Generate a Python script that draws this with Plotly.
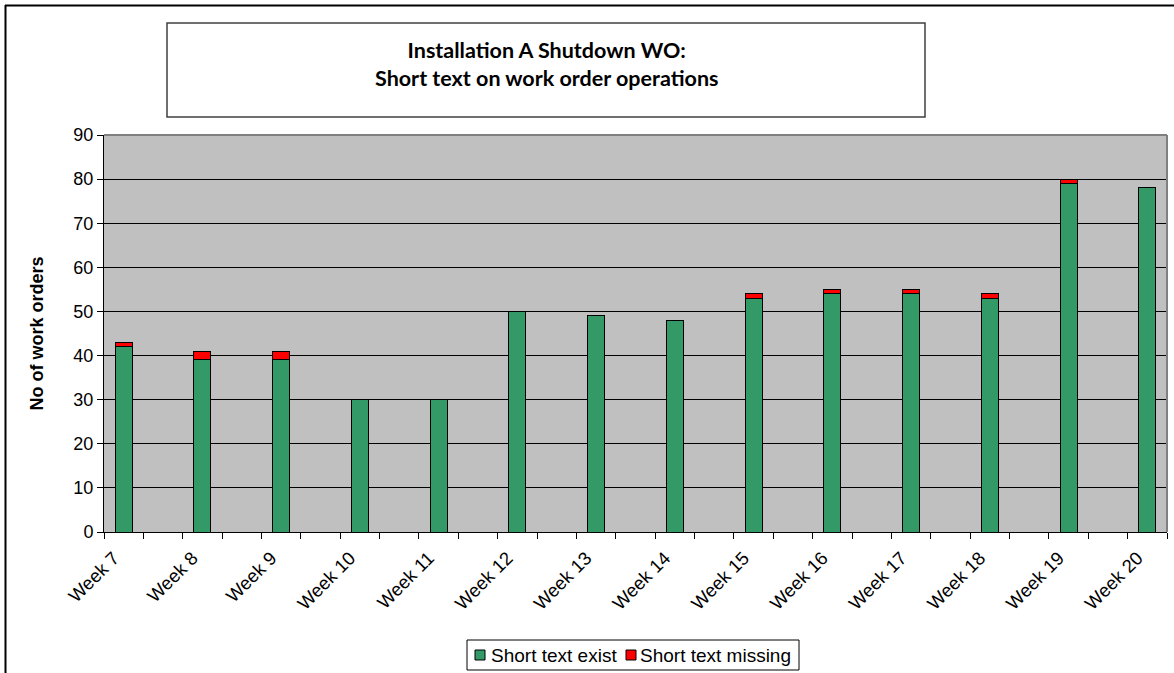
import plotly.graph_objects as go

weeks = ["Week 7", "Week 8", "Week 9", "Week 10", "Week 11", "Week 12", "Week 13",
         "Week 14", "Week 15", "Week 16", "Week 17", "Week 18", "Week 19", "Week 20"]
short_text_exist = [42, 39, 39, 30, 30, 50, 49, 48, 53, 54, 54, 53, 79, 78]
short_text_missing = [1, 2, 2, 0, 0, 0, 0, 0, 1, 1, 1, 1, 1, 0]
series_names = ["Short text exist", "Short text missing"]
series_colors = ["#339966", "#FF0000"]
y_ticks = [0, 10, 20, 30, 40, 50, 60, 70, 80, 90]

# Excel layout: 27 category slots, data in every second slot
n_slots = 2 * len(weeks) - 1
xpos = [2 * i for i in range(len(weeks))]

W, H = 1174, 673
L, R, T, B = 104, 1167, 135, 532


def px(x):
    return (x - L) / (R - L)


def py(y):
    return (B - y) / (B - T)


FONT = "Liberation Sans, Arial, sans-serif"
FS = 18

fig = go.Figure()
for vals, name, col in zip([short_text_exist, short_text_missing], series_names, series_colors):
    fig.add_trace(go.Bar(
        x=xpos, y=vals, name=name, width=0.43,
        marker=dict(color=col, line=dict(color="#000000", width=1)),
    ))
# invisible helper trace so the label axis is drawn
fig.add_trace(go.Scatter(
    x=xpos, y=[0] * len(xpos), xaxis="x2", yaxis="y", mode="markers",
    marker=dict(opacity=0), showlegend=False, hoverinfo="skip",
))

fig.update_layout(
    width=W, height=H,
    barmode="stack",
    paper_bgcolor="white",
    plot_bgcolor="#C0C0C0",
    margin=dict(l=L, r=W - R, t=T, b=H - B, autoexpand=False),
    font=dict(family=FONT, size=FS, color="black"),
    showlegend=False,
    xaxis=dict(
        range=[-0.5, n_slots - 0.5],
        tickmode="array",
        tickvals=[i - 0.5 for i in range(n_slots + 1)],
        ticktext=["" for _ in range(n_slots + 1)],
        ticks="outside", ticklen=6, tickcolor="black", tickwidth=1,
        showline=True, linecolor="black", linewidth=1,
        showgrid=False, zeroline=False,
    ),
    xaxis2=dict(
        overlaying="x", side="bottom",
        range=[-0.5 + 0.25, n_slots - 0.5 + 0.25],
        tickmode="array", tickvals=xpos, ticktext=weeks,
        tickangle=-45, ticks="outside", ticklen=7, tickcolor="rgba(0,0,0,0)",
        showline=False, showgrid=False, zeroline=False,
        tickfont=dict(family=FONT, size=18.5, color="black"),
    ),
    yaxis=dict(
        range=[0, 90], tickmode="array", tickvals=y_ticks,
        ticks="outside", ticklen=6, tickcolor="black",
        showline=True, linecolor="black", linewidth=1,
        showgrid=True, gridcolor="black", gridwidth=1, zeroline=False,
        tickfont=dict(family=FONT, size=FS, color="black"),
        title=dict(text="<b>No of work orders</b>", font=dict(family=FONT, size=FS), standoff=25),
    ),
)

shapes = [
    # plot area gray top/right border
    dict(type="line", xref="paper", yref="paper", x0=0, x1=1, y0=1, y1=1,
         line=dict(color="#808080", width=2)),
    dict(type="line", xref="paper", yref="paper", x0=1, x1=1, y0=0, y1=1,
         line=dict(color="#808080", width=2)),
    # title box
    dict(type="rect", xref="paper", yref="paper", x0=px(167), x1=px(925), y0=py(117), y1=py(23),
         line=dict(color="#404040", width=1.5), fillcolor="white"),
    # outer chart border (top and left)
    dict(type="line", xref="paper", yref="paper", x0=px(5), x1=px(1180), y0=py(5.5), y1=py(5.5),
         line=dict(color="black", width=2)),
    dict(type="line", xref="paper", yref="paper", x0=px(5.5), x1=px(5.5), y0=py(5), y1=py(680),
         line=dict(color="black", width=2)),
    # legend box
    dict(type="rect", xref="paper", yref="paper", x0=px(467), x1=px(799), y0=py(670), y1=py(640),
         line=dict(color="black", width=1), fillcolor="white"),
]
# legend swatches and labels
leg_sw_x = [475, 626]
leg_tx_x = [489, 638]
for sx, tx, name, col in zip(leg_sw_x, leg_tx_x, series_names, series_colors):
    shapes.append(dict(type="rect", xref="paper", yref="paper", x0=px(sx), x1=px(sx + 10),
                       y0=py(660), y1=py(650), line=dict(color="black", width=1), fillcolor=col))
    fig.add_annotation(xref="paper", yref="paper", x=px(tx), y=py(655), xanchor="left",
                       yanchor="middle", text=name, showarrow=False,
                       font=dict(family=FONT, size=19, color="black"))
fig.update_layout(shapes=shapes)

fig.add_annotation(
    xref="paper", yref="paper", x=px(546), y=py(64), xanchor="center", yanchor="middle",
    text="<b>Installation A Shutdown WO:<br>Short text on work order operations</b>",
    showarrow=False, font=dict(family="Lato, Carlito, Calibri, sans-serif", size=21.5, color="black"),
)

fig.write_html(
    "out.html",
    config={"displayModeBar": False},
    post_script="document.body.style.margin='0';document.body.style.overflow='hidden';",
)
